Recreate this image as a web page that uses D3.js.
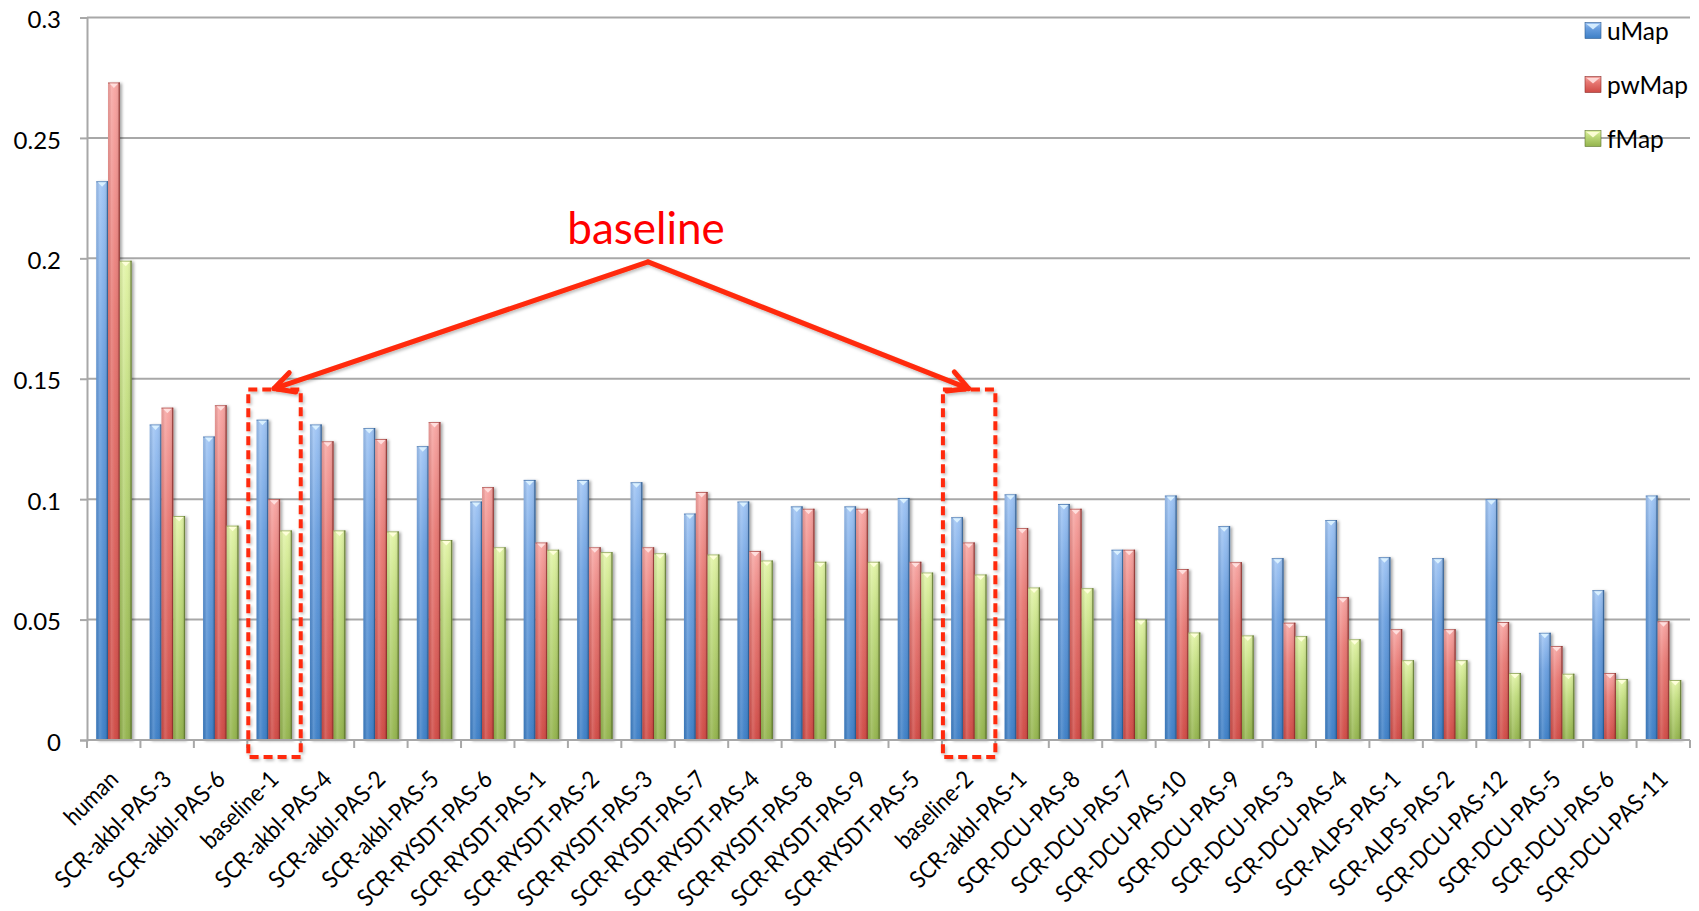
<!DOCTYPE html>
<html>
<head>
<meta charset="utf-8">
<script src="https://cdn.jsdelivr.net/npm/d3@7"></script>
<style>
  html, body { margin: 0; padding: 0; background: #ffffff; }
  svg { display: block; }
  text { font-family: Lato, "Open Sans", "Liberation Sans", sans-serif; fill: #000; }
</style>
</head>
<body>
<svg id="chart" width="1699" height="911"></svg>
<script>
// ---- data ----
const categories = [
  "human", "SCR-akbl-PAS-3", "SCR-akbl-PAS-6", "baseline-1", "SCR-akbl-PAS-4",
  "SCR-akbl-PAS-2", "SCR-akbl-PAS-5", "SCR-RYSDT-PAS-6", "SCR-RYSDT-PAS-1", "SCR-RYSDT-PAS-2",
  "SCR-RYSDT-PAS-3", "SCR-RYSDT-PAS-7", "SCR-RYSDT-PAS-4", "SCR-RYSDT-PAS-8", "SCR-RYSDT-PAS-9",
  "SCR-RYSDT-PAS-5", "baseline-2", "SCR-akbl-PAS-1", "SCR-DCU-PAS-8", "SCR-DCU-PAS-7",
  "SCR-DCU-PAS-10", "SCR-DCU-PAS-9", "SCR-DCU-PAS-3", "SCR-DCU-PAS-4", "SCR-ALPS-PAS-1",
  "SCR-ALPS-PAS-2", "SCR-DCU-PAS-12", "SCR-DCU-PAS-5", "SCR-DCU-PAS-6", "SCR-DCU-PAS-11"
];
const uMap = [
  0.232, 0.131, 0.126, 0.133, 0.131,
  0.1295, 0.122, 0.099, 0.108, 0.108,
  0.107, 0.094, 0.099, 0.097, 0.097,
  0.1005, 0.0925, 0.102, 0.098, 0.079,
  0.1015, 0.0888, 0.0755, 0.0913, 0.0759,
  0.0755, 0.100, 0.0445, 0.0622, 0.1015
];
const pwMap = [
  0.273, 0.138, 0.139, 0.100, 0.124,
  0.125, 0.132, 0.105, 0.082, 0.080,
  0.080, 0.103, 0.0785, 0.096, 0.096,
  0.074, 0.082, 0.088, 0.096, 0.079,
  0.071, 0.0738, 0.0487, 0.0593, 0.046,
  0.046, 0.049, 0.039, 0.0278, 0.0493
];
const fMap = [
  0.199, 0.093, 0.089, 0.087, 0.087,
  0.0866, 0.083, 0.080, 0.079, 0.078,
  0.0775, 0.077, 0.0745, 0.074, 0.074,
  0.0695, 0.0687, 0.0633, 0.063, 0.050,
  0.0446, 0.0434, 0.0431, 0.0418, 0.0331,
  0.0331, 0.0278, 0.0275, 0.0253, 0.0249
];
const seriesNames = ["uMap", "pwMap", "fMap"];
const yTicks = [0, 0.05, 0.1, 0.15, 0.2, 0.25, 0.3];
const yTickLabels = ["0", "0.05", "0.1", "0.15", "0.2", "0.25", "0.3"];
const highlighted = ["baseline-1", "baseline-2"];
const calloutText = "baseline";
const calloutCategory = "SCR-RYSDT-PAS-3";

// ---- setup ----
const svg = d3.select("#chart");
const seriesValues = [uMap, pwMap, fMap];
const rows = categories.map((c, i) => ({ cat: c, vals: seriesValues.map((s, k) => ({ key: seriesNames[k], value: s[i] })) }));

const plotLeft = 87, plotRight = 1690, plotTop = 17.5, plotBottom = 740;

const x = d3.scaleBand().domain(categories).range([plotLeft, plotRight]).paddingInner(0).paddingOuter(0);
const xInner = d3.scaleBand().domain(seriesNames).range([9.2, x.bandwidth() - 8.8]).paddingInner(0);
const y = d3.scaleLinear().domain([0, 0.3]).range([plotBottom, plotTop]);

const palette = {
  uMap:  { top: "#9fc4f4", mid: "#6a9fdf", bottom: "#3d7fc6", edge: "#2a5a8f", cap: "#dcf2ff" },
  pwMap: { top: "#f7a5a2", mid: "#e77873", bottom: "#cf4a45", edge: "#8a2c29", cap: "#ffe0df" },
  fMap:  { top: "#e2f4a6", mid: "#bfdb7c", bottom: "#93b34d", edge: "#5c742e", cap: "#ffffdc" }
};

// ---- defs: gradients & shadows ----
const defs = svg.append("defs");
seriesNames.forEach(k => {
  const g = defs.append("linearGradient").attr("id", "v-" + k)
    .attr("x1", 0).attr("y1", 0).attr("x2", 0).attr("y2", 1);
  g.append("stop").attr("offset", "0%").attr("stop-color", palette[k].top);
  g.append("stop").attr("offset", "35%").attr("stop-color", palette[k].mid);
  g.append("stop").attr("offset", "100%").attr("stop-color", palette[k].bottom);
});
const hg = defs.append("linearGradient").attr("id", "h-shade")
  .attr("x1", 0).attr("y1", 0).attr("x2", 1).attr("y2", 0);
[["0%", "#000", 0.08], ["30%", "#fff", 0.16], ["60%", "#fff", 0.03], ["88%", "#000", 0.08], ["100%", "#000", 0.28]]
  .forEach(([o, c, a]) => hg.append("stop").attr("offset", o).attr("stop-color", c).attr("stop-opacity", a));

const sh = defs.append("filter").attr("id", "bar-shadow")
  .attr("x", "-50%").attr("y", "-5%").attr("width", "200%").attr("height", "110%");
sh.append("feDropShadow").attr("dx", 2).attr("dy", 1).attr("stdDeviation", 1.8)
  .attr("flood-color", "#000").attr("flood-opacity", 0.35);

const ash = defs.append("filter").attr("id", "anno-shadow")
  .attr("x", "-20%").attr("y", "-20%").attr("width", "140%").attr("height", "140%");
ash.append("feDropShadow").attr("dx", 1.5).attr("dy", 2).attr("stdDeviation", 1.5)
  .attr("flood-color", "#000").attr("flood-opacity", 0.25);

// ---- gridlines ----
const gridColor = "#a8a8a8";
svg.append("g").selectAll("line").data(yTicks.filter(t => t > 0)).join("line")
  .attr("x1", plotLeft).attr("x2", plotRight)
  .attr("y1", d => y(d)).attr("y2", d => y(d))
  .attr("stroke", gridColor).attr("stroke-width", 2);

// ---- y axis ----
const yAxis = svg.append("g").attr("transform", `translate(${plotLeft},0)`)
  .call(d3.axisLeft(y).tickValues(yTicks).tickSize(7).tickPadding(19)
    .tickFormat((d, i) => yTickLabels[i]));
yAxis.select(".domain").attr("stroke", gridColor).attr("stroke-width", 2);
yAxis.selectAll(".tick line").attr("stroke", gridColor).attr("stroke-width", 2);
yAxis.selectAll(".tick text")
  .style("font-family", "Lato, 'Open Sans', sans-serif")
  .attr("font-size", 24).attr("fill", "#000").attr("dy", "0.42em");

// ---- bars ----
const groups = svg.append("g").selectAll("g").data(rows).join("g")
  .attr("transform", d => `translate(${x(d.cat)},0)`);

const bars = groups.selectAll("g.bar").data(d => d.vals).join("g").attr("class", "bar")
  .attr("filter", "url(#bar-shadow)");

bars.append("rect")
  .attr("x", d => xInner(d.key)).attr("width", xInner.bandwidth())
  .attr("y", d => y(d.value)).attr("height", d => y(0) - y(d.value))
  .attr("fill", d => `url(#v-${d.key})`);
bars.append("rect")
  .attr("x", d => xInner(d.key)).attr("width", xInner.bandwidth())
  .attr("y", d => y(d.value)).attr("height", d => y(0) - y(d.value))
  .attr("fill", "url(#h-shade)");
// dark right edge and top rim
bars.append("line")
  .attr("x1", d => xInner(d.key) + xInner.bandwidth() - 0.6).attr("x2", d => xInner(d.key) + xInner.bandwidth() - 0.6)
  .attr("y1", d => y(d.value)).attr("y2", y(0))
  .attr("stroke", d => palette[d.key].edge).attr("stroke-width", 1.2).attr("stroke-opacity", 0.75);
bars.append("line")
  .attr("x1", d => xInner(d.key)).attr("x2", d => xInner(d.key) + xInner.bandwidth())
  .attr("y1", d => y(d.value) + 0.5).attr("y2", d => y(d.value) + 0.5)
  .attr("stroke", d => palette[d.key].edge).attr("stroke-width", 1).attr("stroke-opacity", 0.5);
// bevel cap
bars.append("path")
  .attr("d", d => {
    const x0 = xInner(d.key), w = xInner.bandwidth(), t = y(d.value);
    return `M${x0 + 1.6},${t + 1} L${x0 + w - 1.6},${t + 1} L${x0 + w / 2},${t + 5.5} Z`;
  })
  .attr("fill", d => palette[d.key].cap).attr("opacity", 0.95);

// ---- x axis ----
const axisY = y(0);
svg.append("line").attr("x1", plotLeft).attr("x2", plotRight).attr("y1", axisY).attr("y2", axisY)
  .attr("stroke", gridColor).attr("stroke-width", 2);
const boundaries = categories.map(c => x(c)).concat([x(categories[categories.length - 1]) + x.bandwidth()]);
svg.append("g").selectAll("line").data(boundaries).join("line")
  .attr("x1", d => d).attr("x2", d => d).attr("y1", axisY).attr("y2", axisY + 8)
  .attr("stroke", gridColor).attr("stroke-width", 2);

// category labels: slightly condensed, rotated 45 degrees
svg.append("g").selectAll("text").data(categories).join("text")
  .attr("transform", d => `translate(${x(d) + x.bandwidth() / 2 + 6},${axisY + 41}) rotate(-45) scale(0.9,1)`)
  .attr("text-anchor", "end")
  .attr("font-size", 24)
  .text(d => d);

// ---- legend ----
const legend = svg.append("g").selectAll("g").data(seriesNames).join("g")
  .attr("transform", (d, i) => `translate(1585,${22.5 + i * 54})`);
legend.append("rect").attr("width", 16).attr("height", 16)
  .attr("fill", d => `url(#v-${d})`).attr("stroke", d => palette[d].edge).attr("stroke-width", 0.6);
legend.append("path").attr("d", "M1.5,1.5 L14.5,1.5 L8,7 Z").attr("fill", d => palette[d].cap).attr("opacity", 0.9);
legend.append("text").attr("x", 22).attr("y", 17.5).attr("font-size", 24.5).text(d => d);

// ---- baseline callout ----
const red = "#ff2a0a";
const anno = svg.append("g").attr("filter", "url(#anno-shadow)");
const boxTop = y(0.1455), boxBottom = axisY + 17;
highlighted.forEach(c => {
  anno.append("rect")
    .attr("x", x(c) + 1).attr("y", boxTop)
    .attr("width", x.bandwidth() - 1).attr("height", boxBottom - boxTop)
    .attr("fill", "none").attr("stroke", red).attr("stroke-width", 4)
    .attr("stroke-dasharray", "9,5");
});

const apex = [x(calloutCategory) + x.bandwidth() / 2, y(0.1985)];
highlighted.forEach(c => {
  const tip = [x(c) + x.bandwidth() / 2, boxTop - 1];
  anno.append("line").attr("x1", apex[0]).attr("y1", apex[1]).attr("x2", tip[0]).attr("y2", tip[1])
    .attr("stroke", red).attr("stroke-width", 5).attr("stroke-linecap", "round");
  const ang = Math.atan2(tip[1] - apex[1], tip[0] - apex[0]);
  const L = 22, spread = Math.PI / 6.5;
  const p1 = [tip[0] - L * Math.cos(ang - spread), tip[1] - L * Math.sin(ang - spread)];
  const p2 = [tip[0] - L * Math.cos(ang + spread), tip[1] - L * Math.sin(ang + spread)];
  anno.append("path").attr("d", `M${p1[0]},${p1[1]} L${tip[0]},${tip[1]} L${p2[0]},${p2[1]}`)
    .attr("fill", "none").attr("stroke", red).attr("stroke-width", 5)
    .attr("stroke-linecap", "round").attr("stroke-linejoin", "round");
});

svg.append("text").attr("x", apex[0] - 2).attr("y", y(0.206))
  .attr("text-anchor", "middle").attr("font-size", 44).attr("fill", "#ff0000")
  .style("fill", "#ff0000")
  .text(calloutText);
</script>
</body>
</html>
